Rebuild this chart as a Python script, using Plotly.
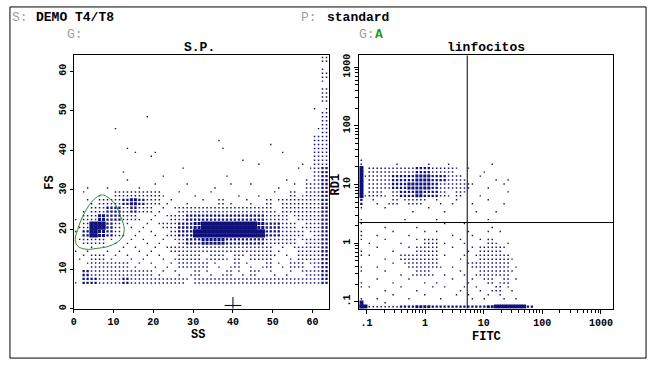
import plotly.graph_objects as go

W, H = 655, 367

# ---------------- data ----------------
# Left panel SS/FS: density levels (0 empty .. 5 solid) per 2x2-unit cell.
# rows: FS 62-64 (top) ... FS 0-2 (bottom); cols: SS 0-2 ... 62-64
ss_fs_bin = 2.0
ss_fs_density = [
    "00000000000000000000000000000002",
    "00000000000000000000000000000001",
    "00000000000000000000000000000002",
    "00000000000000000000000000000001",
    "00000000000000000000000000000002",
    "00000000000000000000000000000002",
    "00000000000000000000000000000011",
    "00000000010000000000000000000002",
    "00000000000000000000000000000002",
    "00000100000000000000000000000012",
    "00000000000000000010000000000022",
    "00000010000000000010000010000022",
    "00000001011000000000000000100022",
    "00000000000000000000010100001022",
    "00000010000001000000000000001123",
    "00000010000100000001000000100123",
    "01001000101000100101001001010223",
    "01010222222101010100100101021223",
    "01122234322110101021011021222223",
    "01223323221112222222222221222223",
    "12243322111122333333333322212223",
    "12553211111223345555555433221223",
    "13543211111123355555555533222123",
    "12221111111112334443333322221223",
    "11111111111122222222222221112223",
    "11221111111112221221212221112223",
    "01222221111112222111211121122123",
    "03222222221111121112112111111223",
    "13322232222222122222222222222223",
    "00000000000000000000000000000000",
    "00000000000000000000000000000000",
    "00000000000000000000000000000000",
]

# Right panel FITC/RD1 (log-log): density levels per cell, 32 x 32 cells over the log ranges
fitc_log_range = [-1.12, 3.21]
rd1_log_range = [-1.115, 3.20]
fitc_rd1_density = [
    "0000000000000000000000", "0000000000000000000000", "0000000000000000000000",
    "0000000000000000000000", "0000000000000000000000", "0000000000000000000000",
    "0000000000000000000000", "0000000000000000000000", "0000000000000000000000",
    "0000000000000000000000", "0000000000000000000000", "0000000000000000000000",
    "0000000000000000000000",
    "0000100010010000100000",
    "1222222332221101000000",
    "1222333443322101011000",
    "1222334443222210101000",
    "1221233433212101001000",
    "1111212211111010101000",
    "0001001010100010010000",
    "0000010001000000100000",
    "0001000100100100100000",
    "0010101011010110110000",
    "0101010122101101211000",
    "0010101222010112221000",
    "0101022222101112222100",
    "0010112222110122222100",
    "0001011221101112222100",
    "0010101011010111212100",
    "0101010101101111121100",
    "0010101010101111111100",
    "0001000001000010001000",
]
# events piled on the low edge of each axis (off-scale low)
fitc_offscale_low = [0] * 13 + [2, 5, 5, 5, 5, 3, 1, 1, 1, 2, 1, 1, 1, 1, 1, 1, 1, 1, 5]
rd1_offscale_low = [5, 2, 2, 2, 2, 3, 3, 4, 4, 3, 3, 3, 3, 3, 3, 3, 4, 5, 5, 5, 5, 3] + [0] * 10

# gate drawn on SS/FS
gate_ss = [7.25, 10.2, 11.8, 12.7, 11.8, 8.9, 5.6, 3.1, 1.0, 0.4, 1.0, 2.25, 4.3, 6.0, 7.25]
gate_fs = [28.75, 26.7, 23.3, 20.0, 17.5, 15.8, 15.2, 15.0, 15.8, 17.5, 20.0, 23.3, 26.7, 28.3, 28.75]

cursor_ss = [40]
cursor_fs = [0.8]

quad_fitc = 5.25
quad_rd1 = 2.25

lin_ticks = [0, 10, 20, 30, 40, 50, 60]
log_tickvals = [0.1, 1, 10, 100, 1000]
log_ticktext = [".1", "1", "10", "100", "1000"]

# ---------------- rendering helpers ----------------
NAVY = "#10107a"
SIZES = {1: 1.4, 2: 1.5, 3: 2.3, 4: 3.0, 5: 4.3}
SUBS = [(0, 0), (1, 0), (0, 1), (1, 1)]


def expand(grid, x_lo, x_w, y_top, y_h, log=False):
    pts = {k: ([], []) for k in SIZES}
    for r, row in enumerate(grid):
        y0 = y_top - (r + 1) * y_h
        for c, ch in enumerate(row):
            L = int(ch)
            if L == 0:
                continue
            x0 = x_lo + c * x_w
            subs = SUBS if L > 1 else [SUBS[(r + c) % 4]]
            for i, j in subs:
                x = x0 + (i + 0.5) * x_w / 2
                y = y0 + (j + 0.5) * y_h / 2
                if log:
                    x, y = 10 ** x, 10 ** y
                pts[L][0].append(x)
                pts[L][1].append(y)
    return pts


fig = go.Figure()


def add_pts(pts, xa, ya):
    for L, (xs, ys) in pts.items():
        if not xs:
            continue
        fig.add_trace(go.Scatter(
            x=xs, y=ys, mode="markers", xaxis=xa, yaxis=ya, hoverinfo="skip",
            marker=dict(symbol="square", size=SIZES[L], color=NAVY, line=dict(width=0)),
            showlegend=False))


# left panel
n_rows = len(ss_fs_density)
add_pts(expand(ss_fs_density, 0.0, ss_fs_bin, n_rows * ss_fs_bin, ss_fs_bin), "x", "y")

# right panel
ncol = 32
nrow = len(fitc_rd1_density)
xw = (fitc_log_range[1] - fitc_log_range[0]) / ncol
yh = (rd1_log_range[1] - rd1_log_range[0]) / nrow
grid_r = [row.ljust(ncol, "0") for row in fitc_rd1_density]
add_pts(expand(grid_r, fitc_log_range[0], xw, rd1_log_range[1], yh, log=True), "x2", "y2")

# off-scale edge events
edge = {k: ([], []) for k in SIZES}
for r, L in enumerate(fitc_offscale_low):
    if L == 0:
        continue
    y0 = rd1_log_range[1] - (r + 1) * yh
    js = [0, 1] if L > 1 else [r % 2]
    for j in js:
        edge[L][0].append(10 ** (fitc_log_range[0] + 0.25 * xw))
        edge[L][1].append(10 ** (y0 + (j + 0.5) * yh / 2))
for c, L in enumerate(rd1_offscale_low):
    if L == 0:
        continue
    x0 = fitc_log_range[0] + c * xw
    iis = [0, 1] if L > 1 else [c % 2]
    for i in iis:
        edge[L][0].append(10 ** (x0 + (i + 0.5) * xw / 2))
        edge[L][1].append(10 ** (rd1_log_range[0] + 0.25 * yh))
add_pts(edge, "x2", "y2")

# gate
fig.add_trace(go.Scatter(x=gate_ss, y=gate_fs, mode="lines", xaxis="x", yaxis="y",
                         line=dict(color="#2e8b2e", width=1, shape="spline", smoothing=1.0),
                         hoverinfo="skip", showlegend=False))
# cursor
fig.add_trace(go.Scatter(x=cursor_ss, y=cursor_fs, mode="markers", xaxis="x", yaxis="y",
                         marker=dict(symbol="cross-thin", size=12, line=dict(width=1, color="black")),
                         hoverinfo="skip", showlegend=False))
# quadrant lines
fig.add_trace(go.Scatter(x=[quad_fitc, quad_fitc], y=[0.01, 100000], mode="lines", xaxis="x2", yaxis="y2",
                         line=dict(color="black", width=1), hoverinfo="skip", showlegend=False))
fig.add_trace(go.Scatter(x=[0.01, 100000], y=[quad_rd1, quad_rd1], mode="lines", xaxis="x2", yaxis="y2",
                         line=dict(color="black", width=1), hoverinfo="skip", showlegend=False))


def px_x(p):
    return p / W


def px_y(p):
    return 1 - p / H


TICKFONT = dict(family="Liberation Mono", size=10, color="black", weight="bold")
minor_vals = [k * 10 ** d for d in range(-1, 4) for k in range(2, 10)]

common = dict(showgrid=False, zeroline=False, showline=True, linecolor="black", linewidth=1,
              mirror=True, ticks="outside", tickcolor="black", tickfont=TICKFONT)

fig.update_layout(
    width=W, height=H, margin=dict(l=0, r=0, t=0, b=0),
    paper_bgcolor="white", plot_bgcolor="white", showlegend=False,
    xaxis=dict(domain=[px_x(71), px_x(327)], range=[0, 64], tickvals=lin_ticks, ticklen=3,
               anchor="y", **common),
    yaxis=dict(domain=[px_y(310), px_y(54)], range=[0, 64], tickvals=lin_ticks, ticklen=3,
               tickangle=-90, anchor="x", **common),
    xaxis2=dict(domain=[px_x(358), px_x(613)], type="log", range=fitc_log_range,
                tickvals=log_tickvals, ticktext=log_ticktext, ticklen=4, anchor="y2",
                minor=dict(ticks="outside", ticklen=3, tickcolor="black", tickmode="array",
                           tickvals=minor_vals), **common),
    yaxis2=dict(domain=[px_y(310), px_y(54)], type="log", range=rd1_log_range,
                tickvals=log_tickvals, ticktext=log_ticktext, ticklen=4, tickangle=-90, anchor="x2",
                minor=dict(ticks="outside", ticklen=3, tickcolor="black", tickmode="array",
                           tickvals=minor_vals), **common),
)

# outer frame
fig.add_shape(type="rect", xref="paper", yref="paper", x0=px_x(7), x1=px_x(646), y0=px_y(360), y1=px_y(5),
              line=dict(color="black", width=1), layer="below")

BOLD = dict(family="Liberation Mono", size=13, color="black", weight="bold")
AX = dict(family="Liberation Mono", size=12, color="black", weight="bold")
GREY = dict(family="Liberation Mono", size=13, color="#a0a0a0")


def txt(text, x, y, font, xanchor="left", angle=0):
    fig.add_annotation(text=text, x=px_x(x), y=px_y(y), xref="paper", yref="paper", showarrow=False,
                       xanchor=xanchor, yanchor="middle", font=font, textangle=angle)


txt("S:", 7, 16, GREY)
txt("DEMO T4/T8", 31, 16, BOLD)
txt("P:", 297, 16, GREY)
txt("standard", 323, 16, BOLD)
txt("G:", 62, 33, GREY)
txt("G:", 356, 33, GREY)
txt("A", 372, 33, dict(family="Liberation Mono", size=13, color="#1f9a1f", weight="bold"))
txt("S.P.", 197, 46, BOLD, xanchor="center")
txt("linfocitos", 485, 46, BOLD, xanchor="center")
txt("SS", 196, 337, AX, xanchor="center")
txt("FITC", 486, 339, AX, xanchor="center")
txt("FS", 47, 183, AX, xanchor="center", angle=-90)
txt("RD1", 335, 184, AX, xanchor="center", angle=-90)

fig.write_html("out.html", config={"displayModeBar": False},
               post_script="document.body.style.margin='0';document.body.style.padding='0';")
